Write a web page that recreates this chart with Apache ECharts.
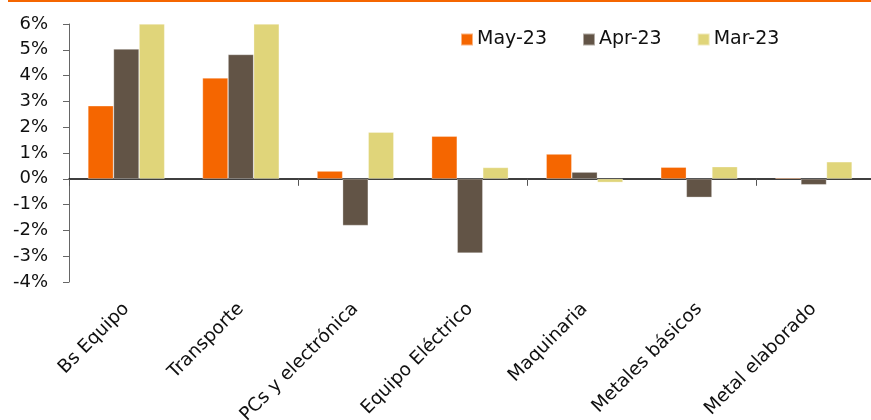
<!DOCTYPE html>
<html><head><meta charset="utf-8">
<script src="https://cdn.jsdelivr.net/npm/echarts@6/dist/echarts.min.js"></script>
<style>html,body{margin:0;padding:0;background:#fff}#c{width:871px;height:420px}</style>
</head><body><div id="c"></div>
<script>
var categories = ['Bs Equipo','Transporte','PCs y electrónica','Equipo Eléctrico','Maquinaria','Metales básicos','Metal elaborado'];
var may23 = [2.83, 3.91, 0.30, 1.65, 0.96, 0.45, 0.04];
var apr23 = [5.03, 4.82, -1.81, -2.88, 0.26, -0.72, -0.23];
var mar23 = [6.0, 6.0, 1.81, 0.44, -0.14, 0.47, 0.66];
var seriesNames = ['May-23','Apr-23','Mar-23'];
var colors = ['#F56600','#625446','#E0D57A'];

var chart = echarts.init(document.getElementById('c'));
var font = 'DejaVu Sans';
function bar(name, data, color){
  return {name:name, type:'bar', data:data, xAxisIndex:0, barGap:'0%', barCategoryGap:'33%',
    itemStyle:{color:color, borderColor:'rgba(255,255,255,0.5)', borderWidth:0.6}};
}
chart.setOption({
  animation:false,
  textStyle:{fontFamily:font},
  grid:{left:69, right:0, top:24, bottom:138, containLabel:false, outerBoundsMode:'none'},
  legend:{top:25, left:455, itemWidth:12, itemHeight:12, itemGap:35,
    icon:'rect', textStyle:{fontSize:19, color:'#111', fontFamily:font, padding:[0,0,0,-1]},
    data:seriesNames},
  xAxis:[{
    type:'category', data:categories, position:'bottom',
    axisLine:{onZero:true, lineStyle:{color:'#000', width:1.5}},
    axisTick:{show:true, length:7, lineStyle:{color:'#555'}},
    axisLabel:{show:false}, splitLine:{show:false}
  },{
    type:'category', data:categories, position:'bottom',
    axisLine:{show:false, onZero:false}, axisTick:{show:false},
    axisLabel:{rotate:45, fontSize:18.5, color:'#111', margin:24, fontFamily:font, interval:0}
  }],
  yAxis:{type:'value', min:-4, max:6, interval:1,
    axisLine:{show:true, lineStyle:{color:'#666'}},
    axisTick:{show:true, length:6, lineStyle:{color:'#666'}},
    splitLine:{show:false},
    axisLabel:{formatter:'{value}%', fontSize:18, color:'#111', margin:21, fontFamily:font}},
  graphic:[{type:'line', shape:{x1:8, y1:1, x2:871, y2:1}, style:{stroke:'#F56600', lineWidth:2}}],
  series:[bar(seriesNames[0], may23, colors[0]), bar(seriesNames[1], apr23, colors[1]), bar(seriesNames[2], mar23, colors[2])]
});
</script></body></html>
